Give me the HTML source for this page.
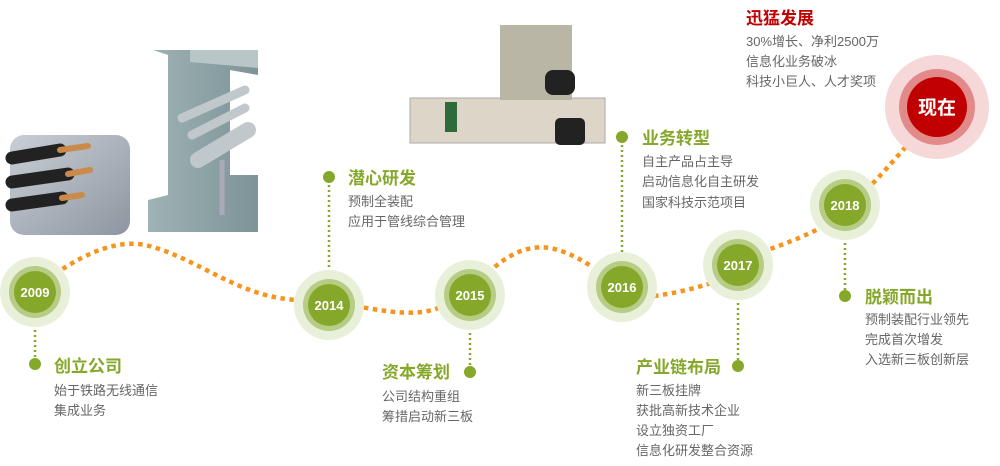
<!DOCTYPE html>
<html><head><meta charset="utf-8"><style>
body{margin:0;background:#fff;}
svg{display:block}
.t{font-family:"Liberation Sans","Noto Sans CJK SC",sans-serif;font-size:17px;font-weight:bold;fill:#86a82a}
.b{font-family:"Liberation Sans","Noto Sans CJK SC",sans-serif;font-size:13px;fill:#666}
.y{font-family:"Liberation Sans","Noto Sans CJK SC",sans-serif;font-size:13px;font-weight:bold;fill:#fff;text-anchor:middle}
.v{stroke:#86a82a;stroke-width:2.5;stroke-dasharray:2 3;fill:none}
</style></head><body>
<svg width="1000" height="466" viewBox="0 0 1000 466">
<defs>
<linearGradient id="tun" x1="0" y1="0" x2="1" y2="1"><stop offset="0" stop-color="#c9cfd6"/><stop offset="1" stop-color="#8d96a0"/></linearGradient>
<linearGradient id="wall" x1="0" y1="0" x2="1" y2="0"><stop offset="0" stop-color="#9fb3b5"/><stop offset="1" stop-color="#7d9397"/></linearGradient>
</defs>
<rect x="10" y="135" width="120" height="100" rx="14" fill="url(#tun)"/>
<g stroke-linecap="round">
<line x1="12" y1="158" x2="60" y2="150" stroke="#222" stroke-width="13"/><line x1="60" y1="150" x2="88" y2="146" stroke="#c98a4a" stroke-width="6"/>
<line x1="12" y1="182" x2="68" y2="174" stroke="#222" stroke-width="13"/><line x1="68" y1="174" x2="90" y2="170" stroke="#c98a4a" stroke-width="6"/>
<line x1="12" y1="205" x2="62" y2="198" stroke="#222" stroke-width="13"/><line x1="62" y1="198" x2="82" y2="195" stroke="#c98a4a" stroke-width="6"/>
</g>
<polygon points="153,50 258,50 258,75 230,70 230,175 258,175 258,232 148,232 148,200 168,195 168,55" fill="url(#wall)"/>
<polygon points="190,50 258,50 258,68 190,62" fill="#b8c6c7"/>
<g stroke="#c0c8cc" stroke-linecap="round"><line x1="182" y1="118" x2="245" y2="90" stroke-width="9"/><line x1="192" y1="135" x2="245" y2="108" stroke-width="9"/><line x1="198" y1="160" x2="248" y2="130" stroke-width="16"/></g>
<line x1="222" y1="160" x2="222" y2="215" stroke="#aab" stroke-width="5"/>
<rect x="410" y="98" width="195" height="45" fill="#ddd6c8" stroke="#aaa"/>
<rect x="500" y="25" width="72" height="75" fill="#b9b6a6"/>
<rect x="545" y="70" width="30" height="25" rx="8" fill="#222"/>
<rect x="555" y="118" width="30" height="27" rx="5" fill="#222"/>
<rect x="445" y="102" width="12" height="30" fill="#2d6b3a"/>
<path d="M55,274 C90,250 120,240 145,245 C200,258 240,300 303,300 M355,306 C390,312 420,318 445,305 M488,273 C510,252 530,245 550,248 C570,252 585,262 600,272 M645,297 C675,294 695,288 715,282 M762,252 C790,242 815,232 825,225 M866,190 C885,172 900,152 917,135" stroke="#f7941d" stroke-width="4.5" stroke-dasharray="4.5 4.5" fill="none"/>
<line class="v" x1="35" y1="315" x2="35" y2="362"/>
<line class="v" x1="329" y1="180" x2="329" y2="285"/>
<line class="v" x1="470" y1="318" x2="470" y2="370"/>
<line class="v" x1="622" y1="140" x2="622" y2="266"/>
<line class="v" x1="738" y1="288" x2="738" y2="364"/>
<line class="v" x1="845" y1="228" x2="845" y2="294"/>
<g fill="#86a82a"><circle cx="35" cy="364" r="6"/><circle cx="329" cy="177" r="6"/><circle cx="470" cy="372" r="6"/><circle cx="622" cy="137" r="6"/><circle cx="738" cy="366" r="6"/><circle cx="845" cy="296" r="6"/></g>
<g>
<circle cx="35" cy="292" r="35" fill="#e9f0da"/><circle cx="35" cy="292" r="26" fill="#b7cc84"/><circle cx="35" cy="292" r="21" fill="#86a82a"/><text class="y" x="35" y="297">2009</text>
<circle cx="329" cy="305" r="35" fill="#e9f0da"/><circle cx="329" cy="305" r="26" fill="#b7cc84"/><circle cx="329" cy="305" r="21" fill="#86a82a"/><text class="y" x="329" y="310">2014</text>
<circle cx="470" cy="295" r="35" fill="#e9f0da"/><circle cx="470" cy="295" r="26" fill="#b7cc84"/><circle cx="470" cy="295" r="21" fill="#86a82a"/><text class="y" x="470" y="300">2015</text>
<circle cx="622" cy="287" r="35" fill="#e9f0da"/><circle cx="622" cy="287" r="26" fill="#b7cc84"/><circle cx="622" cy="287" r="21" fill="#86a82a"/><text class="y" x="622" y="292">2016</text>
<circle cx="738" cy="265" r="35" fill="#e9f0da"/><circle cx="738" cy="265" r="26" fill="#b7cc84"/><circle cx="738" cy="265" r="21" fill="#86a82a"/><text class="y" x="738" y="270">2017</text>
<circle cx="845" cy="205" r="35" fill="#e9f0da"/><circle cx="845" cy="205" r="26" fill="#b7cc84"/><circle cx="845" cy="205" r="21" fill="#86a82a"/><text class="y" x="845" y="210">2018</text>
<circle cx="937" cy="107" r="52" fill="#f6d8d8"/><circle cx="937" cy="107" r="38" fill="#e28a8a"/><circle cx="937" cy="107" r="30" fill="#c00000"/>
<text class="y" x="937" y="114" style="font-size:19px">现在</text>
</g>
<text class="t" x="54" y="372">创立公司</text><text class="b" x="54" y="395">始于铁路无线通信</text><text class="b" x="54" y="415">集成业务</text>
<text class="t" x="348" y="184">潜心研发</text><text class="b" x="348" y="206">预制全装配</text><text class="b" x="348" y="226">应用于管线综合管理</text>
<text class="t" x="382" y="378">资本筹划</text><text class="b" x="382" y="401">公司结构重组</text><text class="b" x="382" y="421">筹措启动新三板</text>
<text class="t" x="642" y="144">业务转型</text><text class="b" x="642" y="166">自主产品占主导</text><text class="b" x="642" y="186">启动信息化自主研发</text><text class="b" x="642" y="207">国家科技示范项目</text>
<text class="t" x="636" y="373">产业链布局</text><text class="b" x="636" y="395">新三板挂牌</text><text class="b" x="636" y="415">获批高新技术企业</text><text class="b" x="636" y="435">设立独资工厂</text><text class="b" x="636" y="455">信息化研发整合资源</text>
<text class="t" x="865" y="303">脱颖而出</text><text class="b" x="865" y="324">预制装配行业领先</text><text class="b" x="865" y="344">完成首次增发</text><text class="b" x="865" y="364">入选新三板创新层</text>
<text class="t" x="746" y="24" style="fill:#c00000">迅猛发展</text><text class="b" x="746" y="46">30%增长、净利2500万</text><text class="b" x="746" y="66">信息化业务破冰</text><text class="b" x="746" y="86">科技小巨人、人才奖项</text>
</svg>
</body></html>
